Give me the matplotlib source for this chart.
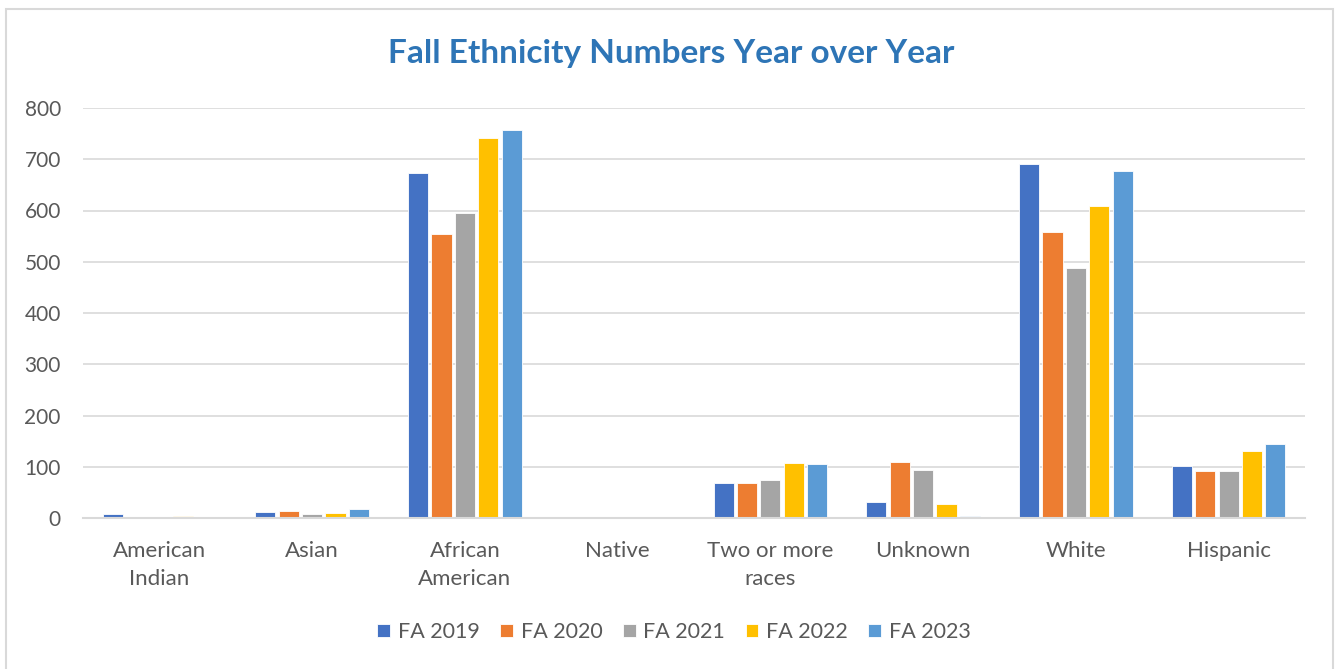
import matplotlib
matplotlib.use("Agg")
import matplotlib.pyplot as plt
import numpy as np
from matplotlib.patches import Rectangle

categories = ["American\nIndian", "Asian", "African\nAmerican", "Native",
              "Two or more\nraces", "Unknown", "White", "Hispanic"]
series_names = ["FA 2019", "FA 2020", "FA 2021", "FA 2022", "FA 2023"]
fa2019 = [7, 11, 673, 0, 68, 32, 690, 102]
fa2020 = [0, 13, 554, 0, 68, 109, 559, 91]
fa2021 = [0, 8, 596, 0, 75, 93, 487, 91]
fa2022 = [3, 10, 742, 1, 107, 27, 609, 131]
fa2023 = [0, 17, 757, 0, 105, 3, 677, 145]
yticks = [0, 100, 200, 300, 400, 500, 600, 700, 800]

colors = ["#4472C4", "#ED7D31", "#A5A5A5", "#FFC000", "#5B9BD5"]
series = [fa2019, fa2020, fa2021, fa2022, fa2023]

plt.rcParams['font.family'] = ['Lato', 'DejaVu Sans']

fig = plt.figure(figsize=(13.43, 6.69), dpi=100)
fig.patch.set_facecolor("white")
fig.patches.append(Rectangle((6/1343, -0.01), (1333-6)/1343, 1 - 9/669 + 0.01,
                             transform=fig.transFigure, fill=False,
                             edgecolor="#D9D9D9", linewidth=1.5))

ax = fig.add_axes([83/1343, (669-518)/669, (1305-83)/1343, (518-108)/669])
x = np.arange(len(categories))
step = 0.153
for i, (vals, name, c) in enumerate(zip(series, series_names, colors)):
    ax.bar(x + (i - 2) * step, vals, width=step * 0.86, color=c, label=name,
           edgecolor="white", linewidth=0.6, zorder=3)

ax.set_xlim(-0.5, len(categories) - 0.5)
ax.set_ylim(0, 800)
ax.set_yticks(yticks)
ax.set_yticklabels([str(t) for t in yticks])
ax.set_xticks(x)
ax.set_xticklabels(categories)
ax.grid(axis="y", color="#D9D9D9", linewidth=1.2, zorder=0)
for s in ["top", "right", "left"]:
    ax.spines[s].set_visible(False)
ax.spines["bottom"].set_color("#D9D9D9")
ax.spines["bottom"].set_linewidth(1.5)
ax.spines["bottom"].set_zorder(4)
ax.tick_params(axis="both", length=0, labelcolor="#595959")
ax.tick_params(axis="y", pad=16, labelsize=15)
ax.tick_params(axis="x", pad=16.5, labelsize=16)
for lab in ax.get_xticklabels():
    lab.set_linespacing(1.5)

fig.text(0.5, 1 - 53/669, "Fall Ethnicity Numbers Year over Year", ha="center",
         va="center", fontsize=24, fontweight="bold", color="#2E75B6")

leg = fig.legend(loc="center", bbox_to_anchor=(674/1343, 1 - 632/669), ncol=5,
                 frameon=False, fontsize=15.5, handlelength=0.6, handleheight=0.6,
                 columnspacing=0.95, handletextpad=0.35)
for t in leg.get_texts():
    t.set_color("#595959")

fig.savefig("out.png", dpi=100, facecolor="white")
